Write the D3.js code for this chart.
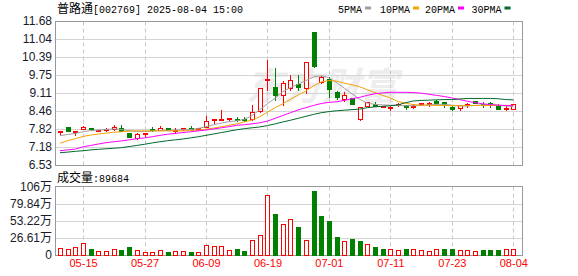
<!DOCTYPE html>
<html>
<head>
<meta charset="utf-8">
<script src="https://cdn.jsdelivr.net/npm/d3@7"></script>
<style>
body { margin: 0; background: #fff; }
</style>
</head>
<body>
<div id="chart"></div>
<script>
// trading days shown (MM-DD)
var dates = ["05-12","05-13","05-14","05-15","05-16","05-19","05-20","05-21","05-22","05-23",
  "05-26","05-27","05-28","05-29","05-30","06-03","06-04","06-05","06-06","06-09",
  "06-10","06-11","06-12","06-13","06-16","06-17","06-18","06-19","06-20","06-23",
  "06-24","06-25","06-26","06-27","06-30","07-01","07-02","07-03","07-04","07-07",
  "07-08","07-09","07-10","07-11","07-14","07-15","07-16","07-17","07-18","07-21",
  "07-22","07-23","07-24","07-25","07-28","07-29","07-30","07-31","08-01","08-04"];

var openP = [7.70,7.88,7.73,7.81,7.84,7.77,7.77,7.80,7.85,7.67,
  7.50,7.65,7.80,7.78,7.85,7.78,7.79,7.85,7.80,7.92,
  8.14,8.15,8.17,8.18,8.18,8.17,8.45,9.58,9.32,9.02,
  9.28,9.43,9.28,11.29,9.50,9.61,9.13,8.89,8.93,8.15,
  8.63,8.72,8.63,8.61,8.70,8.68,8.61,8.68,8.69,8.81,
  8.77,8.59,8.54,8.66,8.81,8.71,8.75,8.63,8.57,8.54];
var highP = [7.73,7.88,7.76,7.93,7.85,7.79,7.84,7.96,7.96,7.67,
  7.66,7.67,7.88,7.93,7.86,7.87,7.85,7.93,7.86,8.29,
  8.17,8.51,8.21,8.24,8.24,8.67,9.28,10.27,10.00,9.52,
  9.76,9.76,10.22,11.29,9.73,9.68,9.17,9.13,8.93,8.59,
  8.79,8.77,8.64,8.63,8.75,8.68,8.72,8.74,8.80,8.85,
  8.77,8.63,8.66,8.75,8.81,8.77,8.77,8.72,8.63,8.71];
var lowP = [7.62,7.74,7.62,7.80,7.79,7.76,7.76,7.79,7.75,7.52,
  7.45,7.57,7.74,7.77,7.77,7.66,7.79,7.81,7.79,7.90,
  8.03,8.14,8.15,8.10,8.09,8.15,8.42,9.21,8.87,8.69,
  9.22,9.22,9.10,10.03,9.48,8.96,8.89,8.83,8.71,8.15,
  8.63,8.63,8.59,8.51,8.63,8.55,8.56,8.67,8.65,8.72,
  8.60,8.49,8.51,8.60,8.73,8.60,8.60,8.54,8.51,8.54];
var closeP = [7.73,7.75,7.76,7.89,7.80,7.78,7.80,7.88,7.76,7.52,
  7.63,7.67,7.79,7.85,7.77,7.79,7.84,7.82,7.84,8.12,
  8.17,8.17,8.20,8.16,8.16,8.41,9.28,9.62,9.02,9.46,
  9.56,9.31,10.22,10.06,9.67,9.25,8.95,9.02,8.71,8.59,
  8.79,8.64,8.64,8.62,8.71,8.62,8.64,8.73,8.73,8.75,
  8.69,8.53,8.66,8.71,8.73,8.69,8.70,8.54,8.58,8.71];

var ma5 = [7.58,7.62,7.66,7.72,7.76,7.78,7.80,7.82,7.80,7.76,
  7.73,7.73,7.74,7.76,7.77,7.78,7.79,7.80,7.84,7.90,
  7.97,8.03,8.08,8.11,8.16,8.30,8.50,8.72,8.92,9.15,
  9.30,9.42,9.55,9.68,9.72,9.65,9.48,9.28,9.08,8.88,
  8.74,8.70,8.68,8.67,8.66,8.65,8.65,8.66,8.68,8.70,
  8.70,8.67,8.65,8.64,8.66,8.68,8.70,8.67,8.64,8.62];
var ma10 = [7.31,7.40,7.47,7.55,7.60,7.64,7.67,7.70,7.72,7.74,
  7.75,7.75,7.75,7.75,7.75,7.75,7.75,7.76,7.78,7.81,
  7.85,7.90,7.95,8.00,8.07,8.14,8.26,8.42,8.58,8.72,
  8.88,9.03,9.18,9.36,9.50,9.55,9.53,9.46,9.40,9.33,
  9.22,9.12,9.02,8.93,8.80,8.74,8.69,8.67,8.67,8.66,
  8.66,8.65,8.65,8.65,8.66,8.66,8.66,8.66,8.66,8.66];
var ma20 = [7.04,7.07,7.10,7.18,7.23,7.28,7.33,7.36,7.39,7.43,
  7.47,7.50,7.54,7.59,7.63,7.66,7.69,7.72,7.75,7.78,
  7.82,7.86,7.90,7.95,7.97,8.00,8.04,8.10,8.20,8.30,
  8.40,8.50,8.58,8.66,8.73,8.77,8.79,8.84,8.90,8.95,
  9.02,9.08,9.11,9.13,9.13,9.13,9.12,9.10,9.06,9.02,
  8.98,8.93,8.87,8.81,8.76,8.72,8.69,8.67,8.66,8.65];
var ma30 = [6.97,6.99,7.02,7.04,7.07,7.09,7.11,7.13,7.15,7.19,
  7.23,7.27,7.32,7.36,7.40,7.43,7.46,7.50,7.54,7.59,
  7.64,7.69,7.74,7.79,7.83,7.86,7.89,7.94,8.00,8.07,
  8.13,8.20,8.27,8.34,8.40,8.44,8.47,8.49,8.51,8.53,
  8.58,8.61,8.63,8.65,8.68,8.76,8.82,8.84,8.85,8.86,
  8.87,8.87,8.89,8.91,8.91,8.91,8.91,8.90,8.87,8.86];

// volume in 万 (10k lots), and whether the bar is an "up" bar
var volume = [10.4,8.8,11.9,18.2,9.3,5.7,5.7,8.8,7.8,12.5,
  7.3,4.2,4.2,7.3,4.7,6.2,6.2,4.7,4.7,15.1,
  14.0,14.0,7.3,9.3,6.2,23.4,30.6,94.5,63.9,47.8,
  57.1,43.6,23.4,99.7,60.7,53.0,28.6,21.8,24.9,21.8,
  16.6,13.0,9.3,8.8,7.3,9.3,8.8,7.3,5.7,8.8,
  9.3,9.3,7.3,7.3,5.7,7.8,7.8,7.8,9.3,8.97];
var volUp = [1,1,1,1,0,1,1,1,0,0,
  1,1,1,1,0,1,1,0,1,1,
  1,1,1,0,0,1,1,1,0,1,
  1,0,1,0,0,0,0,1,0,0,
  1,0,0,1,1,0,1,1,1,1,
  0,0,1,1,1,0,0,0,1,1];

var priceTicks = [6.53,7.18,7.82,8.46,9.11,9.75,10.39,11.04,11.68];
var volTicks = [0,26.61,53.22,79.84,106.44];
var volTickLabels = ["0","26.61万","53.22万","79.84万","106万"];
var dateTicks = ["05-15","05-27","06-09","06-19","07-01","07-11","07-23","08-04"];
var maNames = ["5PMA","10PMA","20PMA","30PMA"];

var RED = "#ff0000", GREEN = "#008000";
var maColors = ["#a0a0a0","#f4a300","#ff00ff","#006a2c"];

var svgWidth = 578, svgHeight = 276;
var left = 55.5, right = 522.5;
var pTop = 21.5, pBottom = 165.5;
var vTop = 186.5, vBottom = 255.5;

var svg = d3.select("#chart").append("svg")
  .attr("width", svgWidth)
  .attr("height", svgHeight)
  .style("font-family", "'Liberation Sans', Arial, 'Noto Sans CJK SC', sans-serif");

var x = d3.scalePoint().domain(dates).range([60, 513.3]);
var y = d3.scaleLinear().domain([6.53, 11.68]).range([165, 21]);
var yv = d3.scaleLinear().domain([0, 106.44]).range([255, 187]);
var px = function(v) { return Math.round(v) + 0.5; };

// watermark
svg.append("text")
  .attr("x", 246).attr("y", 100)
  .attr("fill", "#ededed")
  .attr("font-size", 38)
  .attr("font-weight", "bold")
  .attr("font-style", "italic")
  .attr("font-family", "'Noto Sans CJK SC', sans-serif")
  .text("东方财富");

// horizontal grid, price panel
svg.append("g").selectAll("line")
  .data(priceTicks.slice(1, -1))
  .enter().append("line")
  .attr("x1", left).attr("x2", right)
  .attr("y1", d => px(y(d))).attr("y2", d => px(y(d)))
  .attr("stroke", "#d4d4d4");

// horizontal grid, volume panel
svg.append("g").selectAll("line")
  .data(volTicks.slice(1, -1))
  .enter().append("line")
  .attr("x1", left).attr("x2", right)
  .attr("y1", d => px(yv(d))).attr("y2", d => px(yv(d)))
  .attr("stroke", "#d4d4d4");

// vertical dashed grid in both panels
[[pTop, pBottom], [vTop, vBottom]].forEach(function(r) {
  svg.append("g").selectAll("line")
    .data(dateTicks)
    .enter().append("line")
    .attr("x1", d => px(x(d))).attr("x2", d => px(x(d)))
    .attr("y1", r[0]).attr("y2", r[1])
    .attr("stroke", "#c8c8c8")
    .attr("stroke-dasharray", "4,3");
});

// panel borders
svg.append("rect").attr("x", left).attr("y", pTop)
  .attr("width", right - left).attr("height", pBottom - pTop)
  .attr("fill", "none").attr("stroke", "#999");
svg.append("rect").attr("x", left).attr("y", vTop)
  .attr("width", right - left).attr("height", vBottom - vTop)
  .attr("fill", "none").attr("stroke", "#999");

// candles
var candles = svg.append("g").selectAll("g")
  .data(dates)
  .enter().append("g");

candles.append("line")
  .attr("x1", d => px(x(d))).attr("x2", d => px(x(d)))
  .attr("y1", (d, i) => Math.round(y(highP[i])))
  .attr("y2", (d, i) => Math.round(y(lowP[i])) + 1)
  .attr("stroke", (d, i) => closeP[i] >= openP[i] ? RED : GREEN);

candles.append("rect")
  .attr("x", d => Math.round(x(d)) - 2 + 0.5)
  .attr("y", (d, i) => Math.round(y(Math.max(openP[i], closeP[i]))) + 0.5)
  .attr("width", 4)
  .attr("height", (d, i) => Math.max(1, Math.round(Math.abs(y(openP[i]) - y(closeP[i])))))
  .attr("fill", (d, i) => closeP[i] >= openP[i] ? "#fff" : GREEN)
  .attr("stroke", (d, i) => closeP[i] >= openP[i] ? RED : GREEN);

// moving averages
[ma5, ma10, ma20, ma30].forEach(function(series, k) {
  var line = d3.line()
    .x((d, i) => x(dates[i]))
    .y(d => y(d));
  svg.append("path")
    .datum(series)
    .attr("d", line)
    .attr("fill", "none")
    .attr("stroke", maColors[k])
    .attr("stroke-width", 1);
});

// volume bars
svg.append("g").selectAll("rect")
  .data(dates)
  .enter().append("rect")
  .attr("x", d => Math.round(x(d)) - 2 + 0.5)
  .attr("y", (d, i) => Math.round(yv(volume[i])) + 0.5)
  .attr("width", 4)
  .attr("height", (d, i) => 255 - Math.round(yv(volume[i])))
  .attr("fill", (d, i) => volUp[i] ? "#fff" : GREEN)
  .attr("stroke", (d, i) => volUp[i] ? RED : GREEN);

// y axis labels, price
var priceAxis = d3.axisLeft(y).tickValues(priceTicks)
  .tickFormat(d3.format(".2f")).tickSize(0).tickPadding(3);
svg.append("g").attr("transform", "translate(" + (left - 0.5) + ",0)")
  .call(priceAxis)
  .call(g => g.select(".domain").remove())
  .selectAll("text")
  .attr("font-size", 12)
  .attr("font-family", "'Liberation Sans', Arial, sans-serif")
  .attr("fill", "#1a1a2a");

// y axis labels, volume
var volAxis = d3.axisLeft(yv).tickValues(volTicks)
  .tickFormat((d, i) => volTickLabels[i]).tickSize(0).tickPadding(3);
svg.append("g").attr("transform", "translate(" + (left - 0.5) + ",0)")
  .call(volAxis)
  .call(g => g.select(".domain").remove())
  .selectAll("text")
  .attr("font-size", 12)
  .attr("font-family", "'Liberation Sans', Arial, 'Noto Sans CJK SC', sans-serif")
  .attr("fill", "#1a1a2a");

// x axis labels
var xAxis = d3.axisBottom(x).tickValues(dateTicks).tickSize(0).tickPadding(0);
svg.append("g").attr("transform", "translate(0,259)")
  .call(xAxis)
  .call(g => g.select(".domain").remove())
  .selectAll("text")
  .attr("font-size", 11)
  .attr("font-family", "'Liberation Sans', Arial, sans-serif")
  .attr("fill", RED);

// title
var title = svg.append("text").attr("x", 57).attr("y", 13).attr("fill", "#000");
title.append("tspan")
  .attr("font-family", "'Noto Sans CJK SC', sans-serif").attr("font-size", 12)
  .text("普路通");
title.append("tspan")
  .attr("font-family", "'Liberation Mono', monospace").attr("font-size", 10)
  .text("[002769] 2025-08-04 15:00");

// volume caption
var vcap = svg.append("text").attr("x", 57).attr("y", 182).attr("fill", "#000");
vcap.append("tspan")
  .attr("font-family", "'Noto Sans CJK SC', sans-serif").attr("font-size", 12)
  .text("成交量");
vcap.append("tspan")
  .attr("font-family", "'Liberation Mono', monospace").attr("font-size", 10)
  .text(":89684");

// legend
var legendX = [338, 380, 425, 471.5];
var legend = svg.append("g").selectAll("g")
  .data(maNames)
  .enter().append("g")
  .attr("transform", (d, i) => "translate(" + legendX[i] + ",0)");
legend.append("text")
  .attr("x", 0).attr("y", 12.5)
  .attr("font-family", "'Liberation Mono', monospace")
  .attr("font-size", 10)
  .attr("fill", "#000")
  .text(d => d);
legend.append("rect")
  .attr("x", d => d.length * 6 + 3).attr("y", 6.5)
  .attr("width", 6).attr("height", 3)
  .attr("fill", (d, i) => maColors[i]);
</script>
</body>
</html>
